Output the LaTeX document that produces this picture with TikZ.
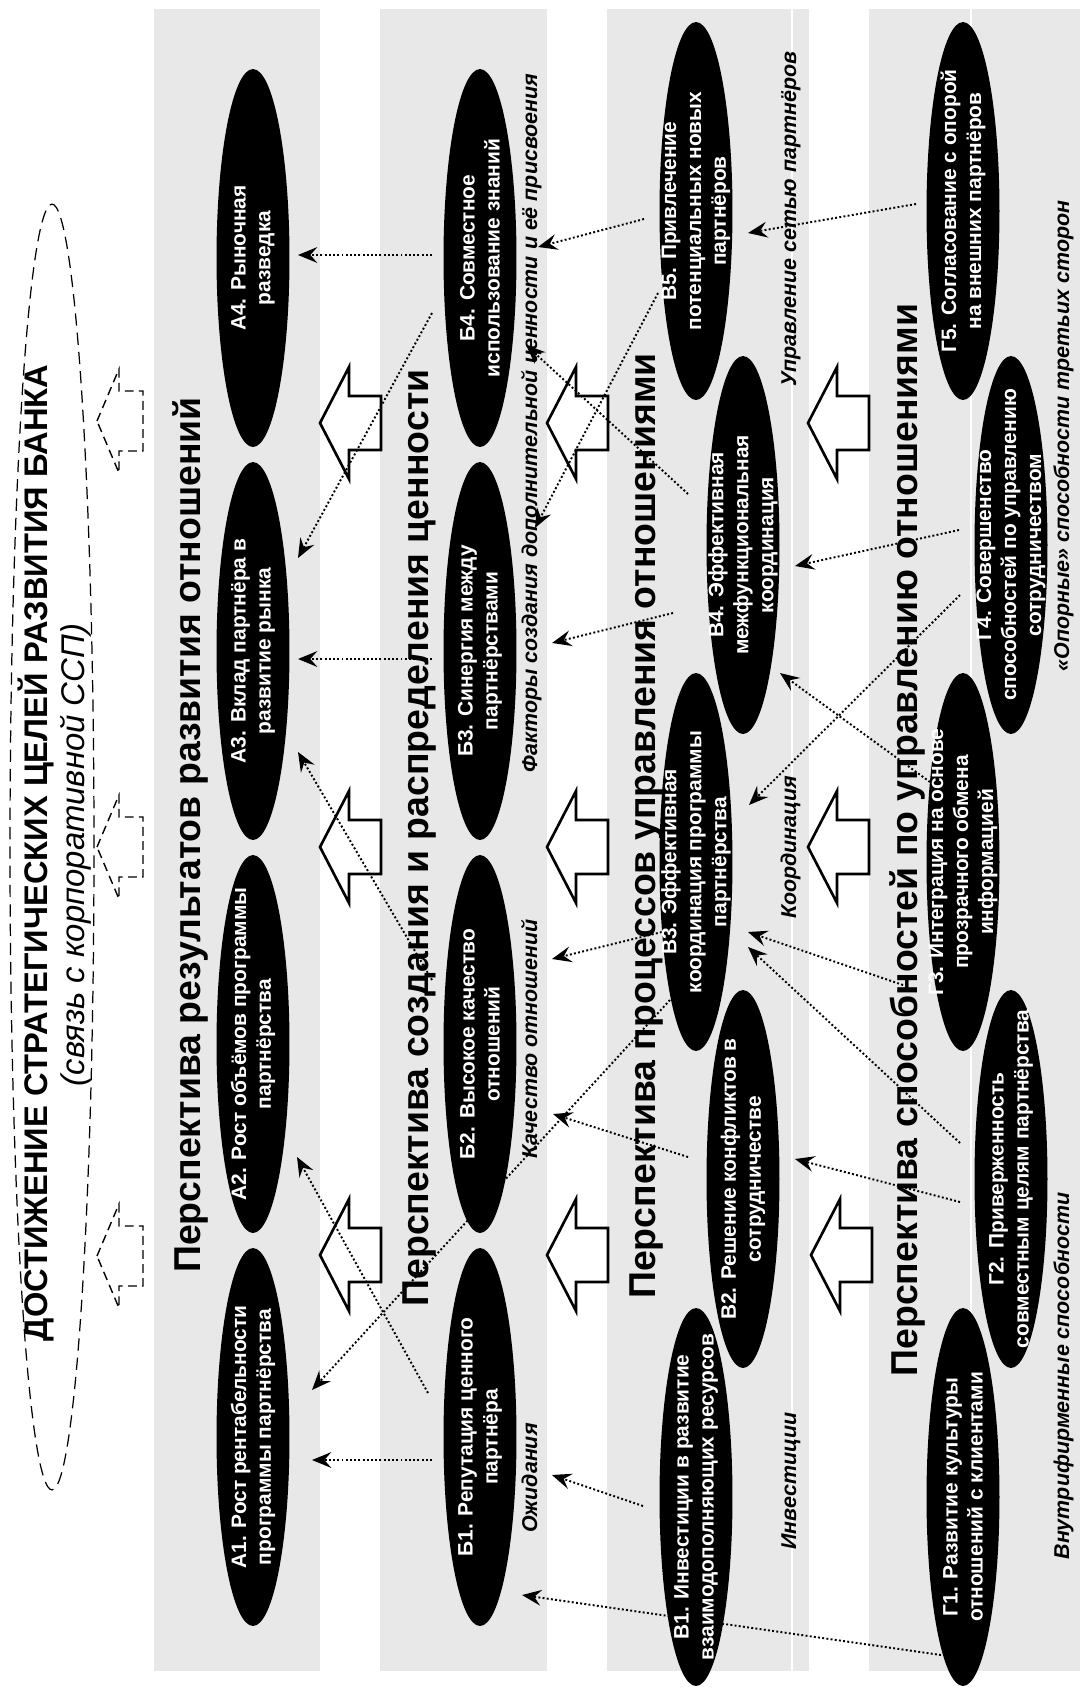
\documentclass[tikz,border=0pt]{standalone}
\usepackage{fontspec}
\setmainfont{Liberation Sans}
\usetikzlibrary{shapes.geometric,arrows.meta,calc}
\pgfdeclarelayer{back}
\pgfsetlayers{back,main}
\definecolor{bandgray}{RGB}{232,232,232}
\newcommand\solidarr[2]{\draw[barrow] (#1,#2) -- ++(29,-56) -- ++(0,29) -- ++(32,0) -- ++(0,54) -- ++(-32,0) -- ++(0,29) -- cycle;}
\newcommand\dasharr[2]{\draw[darrow] (#1,#2) -- ++(22,-52) -- ++(0,22) -- ++(24,0) -- ++(0,60) -- ++(-24,0) -- ++(0,22) -- cycle;}
\begin{document}
\begin{tikzpicture}[x=0.02cm,y=-0.02cm,
  ell/.style={ellipse,fill=black,draw=none,minimum width=1.46cm,minimum height=7.56cm,inner sep=0pt},
  etxt/.style={rotate=90,text=white,align=center,inner sep=0pt,font=\bfseries\fontsize{11.9pt}{14.2pt}\selectfont},
  persp/.style={rotate=90,anchor=base,inner sep=0pt,font=\bfseries\fontsize{21.3pt}{24pt}\selectfont},
  lab/.style={rotate=90,anchor=base,inner sep=0pt,font=\bfseries\itshape\fontsize{12.2pt}{14pt}\selectfont},
  conn/.style={line width=1.1pt,dash pattern=on 1.1pt off 1.3pt,-{Stealth[length=11pt,width=9pt,inset=4pt]}},
  barrow/.style={draw=black,line width=1.5pt,fill=white,line join=miter},
  darrow/.style={draw=black,line width=0.8pt,dash pattern=on 5pt off 3pt,fill=white},
]
\useasboundingbox (0,0) rectangle (1080,1698);

% ---------- ellipses ----------
\node[ell] (a4) at (253,258) {};
\node[ell] (a3) at (253,651) {};
\node[ell] (a2) at (253,1044) {};
\node[ell] (a1) at (253,1437) {};
\node[ell] (b4) at (480,258) {};
\node[ell] (b3) at (480,651) {};
\node[ell] (b2) at (480,1044) {};
\node[ell] (b1) at (480,1437) {};
\node[ell] (v5) at (696,211) {};
\node[ell] (v4) at (743,545) {};
\node[ell] (v3) at (696,862) {};
\node[ell] (v2) at (743,1179) {};
\node[ell] (v1) at (696,1497) {};
\node[ell] (g5) at (963,211) {};
\node[ell] (g4) at (1011,545) {};
\node[ell] (g3) at (963,862) {};
\node[ell] (g2) at (1011,1179) {};
\node[ell] (g1) at (963,1497) {};

\node[etxt] (a4t) at (a4) {А4. Рыночная\\разведка};
\node[etxt] (a3t) at (a3) {А3. Вклад партнёра в\\развитие рынка};
\node[etxt] (a2t) at (a2) {А2. Рост объёмов программы\\партнёрства};
\node[etxt] (a1t) at (a1) {А1. Рост рентабельности\\программы партнёрства};
\node[etxt] (b4t) at (b4) {Б4. Совместное\\использование знаний};
\node[etxt] (b3t) at (b3) {Б3. Синергия между\\партнёрствами};
\node[etxt] (b2t) at (b2) {Б2. Высокое качество\\отношений};
\node[etxt] (b1t) at (b1) {Б1. Репутация ценного\\партнёра};
\node[etxt] (v5t) at (v5) {В5. Привлечение\\потенциальных новых\\партнёров};
\node[etxt] (v4t) at (v4) {В4. Эффективная\\межфункциональная\\координация};
\node[etxt] (v3t) at (v3) {В3. Эффективная\\координация программы\\партнёрства};
\node[etxt] (v2t) at (v2) {В2. Решение конфликтов в\\сотрудничестве};
\node[etxt] (v1t) at (v1) {В1. Инвестиции в развитие\\взаимодополняющих ресурсов};
\node[etxt] (g5t) at (g5) {Г5. Согласование с опорой\\на внешних партнёров};
\node[etxt] (g4t) at (g4) {Г4. Совершенство\\способностей по управлению\\сотрудничеством};
\node[etxt] (g3t) at (g3) {Г3. Интеграция на основе\\прозрачного обмена\\информацией};
\node[etxt] (g2t) at (g2) {Г2. Приверженность\\совместным целям партнёрства};
\node[etxt] (g1t) at (g1) {Г1. Развитие культуры\\отношений с клиентами};

\begin{pgfonlayer}{back}
% page and bands
\fill[white] (0,0) rectangle (1080,1698);
\fill[bandgray] (154,9) rectangle (320,1671);
\fill[bandgray] (380,9) rectangle (547,1671);
\fill[bandgray] (607,9) rectangle (809,1671);
\fill[bandgray] (869,9) rectangle (1080,1671);
\draw[white,line width=0.6pt] (792,9) -- (792,1671);
\draw[white,line width=0.6pt] (971,9) -- (971,1671);

% goal ellipse and title
\draw[line width=0.7pt,dash pattern=on 7pt off 4pt] (52,847) ellipse [x radius=0.84cm, y radius=12.86cm];
\node[rotate=90,anchor=base,inner sep=0pt,font=\bfseries\fontsize{18.6pt}{20pt}\selectfont] (title) at (48,853) {ДОСТИЖЕНИЕ СТРАТЕГИЧЕСКИХ ЦЕЛЕЙ РАЗВИТИЯ БАНКА};
\node[rotate=90,anchor=base,inner sep=0pt,font=\itshape\fontsize{18.7pt}{20pt}\selectfont] (sub) at (84,855) {(связь с корпоративной ССП)};

% block arrows
\dasharr{97}{421}
\dasharr{97}{847}
\dasharr{97}{1256}
\solidarr{320}{423}
\solidarr{320}{847}
\solidarr{320}{1255}
\solidarr{547}{423}
\solidarr{547}{847}
\solidarr{547}{1255}
\solidarr{808}{423}
\solidarr{808}{847}
\solidarr{811}{1255}

% perspective titles
\node[persp] (pa) at (200,835) {Перспектива результатов развития отношений};
\node[persp] (pb) at (428,838) {Перспектива создания и распределения ценности};
\node[persp] (pc) at (655,826) {Перспектива процессов управления отношениями};
\node[persp] (pd) at (917,840) {Перспектива способностей по управлению отношениями};

% italic labels
\node[lab] (lb1) at (537,423) {Факторы создания дополнительной ценности и её присвоения};
\node[lab] (lb2) at (537,1039) {Качество отношений};
\node[lab] (lb3) at (537,1478) {Ожидания};
\node[lab] (lc1) at (796,219) {Управление сетью партнёров};
\node[lab] (lc2) at (796,847) {Координация};
\node[lab] (lc3) at (796,1481) {Инвестиции};
\node[lab] (ld1) at (1069,436) {«Опорные» способности третьих сторон};
\node[lab] (ld2) at (1069,1376) {Внутрифирменные способности};

% connectors
\draw[conn] ($(b4)+(-48,-3)$) -- ($(a4)+(45,-3)$);
\draw[conn] ($(b4)+(-48,55)$) -- ($(a3)+(45,-93)$);
\draw[conn] ($(b3)+(-48,8)$) -- ($(a3)+(45,8)$);
\draw[conn] ($(b2)+(-48,-64)$) -- ($(a3)+(45,101)$);
\draw[conn] ($(b1)+(-52,-44)$) -- ($(a2)+(44,113)$);
\draw[conn] ($(v3)+(-26,138)$) -- ($(a1)+(59,-47)$);
\draw[conn] ($(b1)+(-48,23)$) -- ($(a1)+(59,23)$);
\draw[conn] ($(v5)+(-52,8)$) -- ($(b4)+(58,-11)$);
\draw[conn] ($(v4)+(-55,-51)$) -- ($(b4)+(46,87)$);
\draw[conn] ($(v5)+(-38,82)$) -- ($(b3)+(55,-123)$);
\draw[conn] ($(v4)+(-70,68)$) -- ($(b3)+(72,-8)$);
\draw[conn] ($(v3)+(-26,68)$) -- ($(b2)+(72,-85)$);
\draw[conn] ($(v2)+(-55,-22)$) -- ($(b2)+(73,70)$);
\draw[conn] ($(v1)+(-53,9)$) -- ($(b1)+(72,38)$);
\draw[conn] ($(g1)+(-22,158)$) -- ($(b1)+(42,158)$);
\draw[conn] ($(g5)+(-47,-7)$) -- ($(v5)+(52,22)$);
\draw[conn] ($(g4)+(-52,-15)$) -- ($(v4)+(52,21)$);
\draw[conn] ($(g4)+(-51,50)$) -- ($(v3)+(53,-57)$);
\draw[conn] ($(g3)+(-33,-80)$) -- ($(v4)+(37,128)$);
\draw[conn] ($(g3)+(-60,123)$) -- ($(v3)+(52,70)$);
\draw[conn] ($(g2)+(-51,-36)$) -- ($(v3)+(52,85)$);
\draw[conn] ($(g2)+(-51,23)$) -- ($(v2)+(52,-20)$);
\end{pgfonlayer}
\end{tikzpicture}
\end{document}
